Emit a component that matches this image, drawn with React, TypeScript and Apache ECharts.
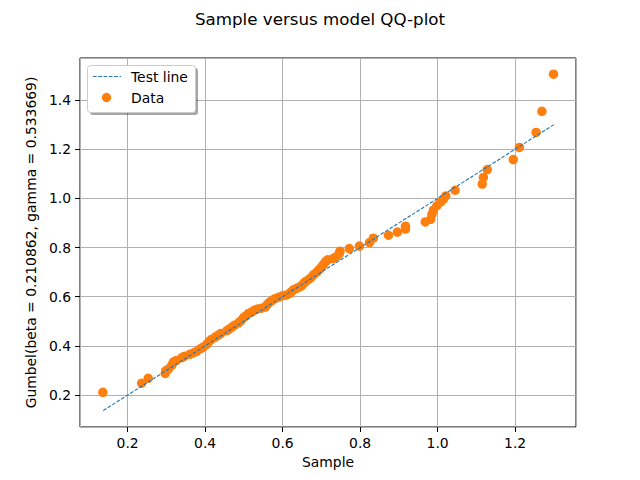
import React, { useEffect, useRef } from "react";
import * as echarts from "echarts";

const sampleX = [
  0.136, 0.236, 0.253, 0.297, 0.298, 0.305, 0.314, 0.318, 0.325, 0.34,
  0.347, 0.361, 0.37, 0.378, 0.387, 0.395, 0.404, 0.41, 0.416, 0.426,
  0.433, 0.44, 0.456, 0.462, 0.469, 0.476, 0.486, 0.492, 0.499, 0.505,
  0.512, 0.52, 0.528, 0.535, 0.545, 0.555, 0.56, 0.565, 0.572, 0.58,
  0.59, 0.6, 0.61, 0.617, 0.622, 0.628, 0.636, 0.644, 0.65, 0.655,
  0.66, 0.667, 0.673, 0.68, 0.688, 0.694, 0.7, 0.705, 0.71, 0.716,
  0.73, 0.738, 0.746, 0.748, 0.772, 0.798, 0.824, 0.834, 0.873, 0.896,
  0.917, 0.917, 0.968, 0.982, 0.985, 0.989, 0.998, 1.008, 1.015, 1.021,
  1.045, 1.115, 1.118, 1.128, 1.195, 1.211, 1.254, 1.269, 1.299,
];
const modelY = [
  0.211, 0.248, 0.268, 0.288, 0.298, 0.305, 0.322, 0.334, 0.34, 0.352,
  0.358, 0.366, 0.372, 0.378, 0.388, 0.395, 0.406, 0.418, 0.426, 0.436,
  0.443, 0.45, 0.462, 0.468, 0.476, 0.484, 0.494, 0.502, 0.515, 0.522,
  0.532, 0.538, 0.546, 0.55, 0.553, 0.558, 0.568, 0.576, 0.584, 0.592,
  0.598, 0.604, 0.607, 0.612, 0.62, 0.628, 0.634, 0.64, 0.646, 0.656,
  0.662, 0.67, 0.678, 0.69, 0.7, 0.71, 0.72, 0.731, 0.742, 0.75,
  0.755, 0.762, 0.775, 0.785, 0.796, 0.806, 0.82, 0.838, 0.85, 0.863,
  0.875, 0.887, 0.904, 0.915, 0.935, 0.952, 0.97, 0.986, 0.997, 1.01,
  1.033, 1.058, 1.085, 1.117, 1.158, 1.207, 1.268, 1.354, 1.505,
];
const testLineX = [0.137, 1.3];
const testLineY = [0.137, 1.3];

const titleText = "Sample versus model QQ-plot";
const xName = "Sample";
const yName = "Gumbel(beta = 0.210862, gamma = 0.533669)";
const legendNames = ["Test line", "Data"];

const FONT = "DejaVu Sans";

export default function App() {
  const ref = useRef<HTMLDivElement>(null);
  useEffect(() => {
    if (!ref.current) return;
    const chart = echarts.init(ref.current, undefined, { renderer: "svg" });
    const fmt = (v: number) => {
      const k = v / 0.2;
      if (Math.abs(k - Math.round(k)) > 1e-6) return "";
      return v.toFixed(1);
    };
    chart.setOption({
      animation: false,
      backgroundColor: "#ffffff",
      title: {
        text: titleText,
        left: "center",
        top: 5,
        textStyle: { fontFamily: FONT, fontSize: 16.7, fontWeight: "normal", color: "#000" },
      },
      grid: {
        left: 80,
        right: 64,
        top: 58,
        bottom: 53,
        show: true,
        borderColor: "#000",
        borderWidth: 1,
        backgroundColor: "transparent",
      },
      xAxis: {
        type: "value",
        min: 0.077,
        max: 1.357,
        splitNumber: 6,
        minInterval: 0.2,
        maxInterval: 0.2,
        name: xName,
        nameLocation: "middle",
        nameGap: 28,
        nameTextStyle: { fontFamily: FONT, fontSize: 13.9, color: "#000" },
        axisLine: { show: false },
        axisTick: { show: true, length: 5, lineStyle: { color: "#000" } },
        axisLabel: { formatter: fmt, margin: 9, fontFamily: FONT, fontSize: 13.9, color: "#000", showMinLabel: false, showMaxLabel: false },
        splitLine: { show: true, lineStyle: { color: "#b0b0b0", width: 1 } },
      },
      yAxis: {
        type: "value",
        min: 0.07,
        max: 1.571,
        splitNumber: 7,
        minInterval: 0.2,
        maxInterval: 0.2,
        name: yName,
        nameLocation: "middle",
        nameGap: 38,
        nameTextStyle: { fontFamily: FONT, fontSize: 13.9, color: "#000" },
        axisLine: { show: false },
        axisTick: { show: true, length: 5, lineStyle: { color: "#000" } },
        axisLabel: { formatter: fmt, margin: 9, fontFamily: FONT, fontSize: 13.9, color: "#000", showMinLabel: false, showMaxLabel: false },
        splitLine: { show: true, lineStyle: { color: "#b0b0b0", width: 1 } },
      },
      series: [
        {
          name: legendNames[0],
          type: "line",
          data: testLineX.map((x, i) => [x, testLineY[i]]),
          showSymbol: false,
          symbol: "none",
          lineStyle: { color: "#1f77b4", width: 1.1, type: [3.7, 1.6] },
          z: 3,
        },
        {
          name: legendNames[1],
          type: "scatter",
          data: sampleX.map((x, i) => [x, modelY[i]]),
          symbol: "circle",
          symbolSize: 9.5,
          itemStyle: { color: "#ff7f0e", opacity: 1 },
          z: 2,
        },
      ],
      graphic: [
        {
          type: "rect",
          shape: { x: 90, y: 68, width: 108, height: 47, r: 3 },
          style: { fill: "rgba(0,0,0,0.35)" },
          z: 10,
        },
        {
          type: "rect",
          shape: { x: 87.5, y: 65.5, width: 108, height: 47, r: 3 },
          style: { fill: "#ffffff", stroke: "#cccccc", lineWidth: 1 },
          z: 11,
        },
        {
          type: "line",
          shape: { x1: 93, y1: 76.5, x2: 121, y2: 76.5 },
          style: { stroke: "#1f77b4", lineWidth: 1.1, lineDash: [3.7, 1.6] },
          z: 12,
        },
        {
          type: "text",
          x: 131,
          y: 76.5,
          style: { text: legendNames[0], fontFamily: FONT, fontSize: 13.9, fill: "#000", verticalAlign: "middle", align: "left" },
          z: 12,
        },
        {
          type: "circle",
          shape: { cx: 106.5, cy: 97.5, r: 4.7 },
          style: { fill: "#ff7f0e" },
          z: 12,
        },
        {
          type: "text",
          x: 131,
          y: 97.5,
          style: { text: legendNames[1], fontFamily: FONT, fontSize: 13.9, fill: "#000", verticalAlign: "middle", align: "left" },
          z: 12,
        },
      ],
    });
    return () => chart.dispose();
  }, []);
  return <div ref={ref} style={{ width: 640, height: 480, position: "absolute", left: 0, top: 0 }} />;
}
